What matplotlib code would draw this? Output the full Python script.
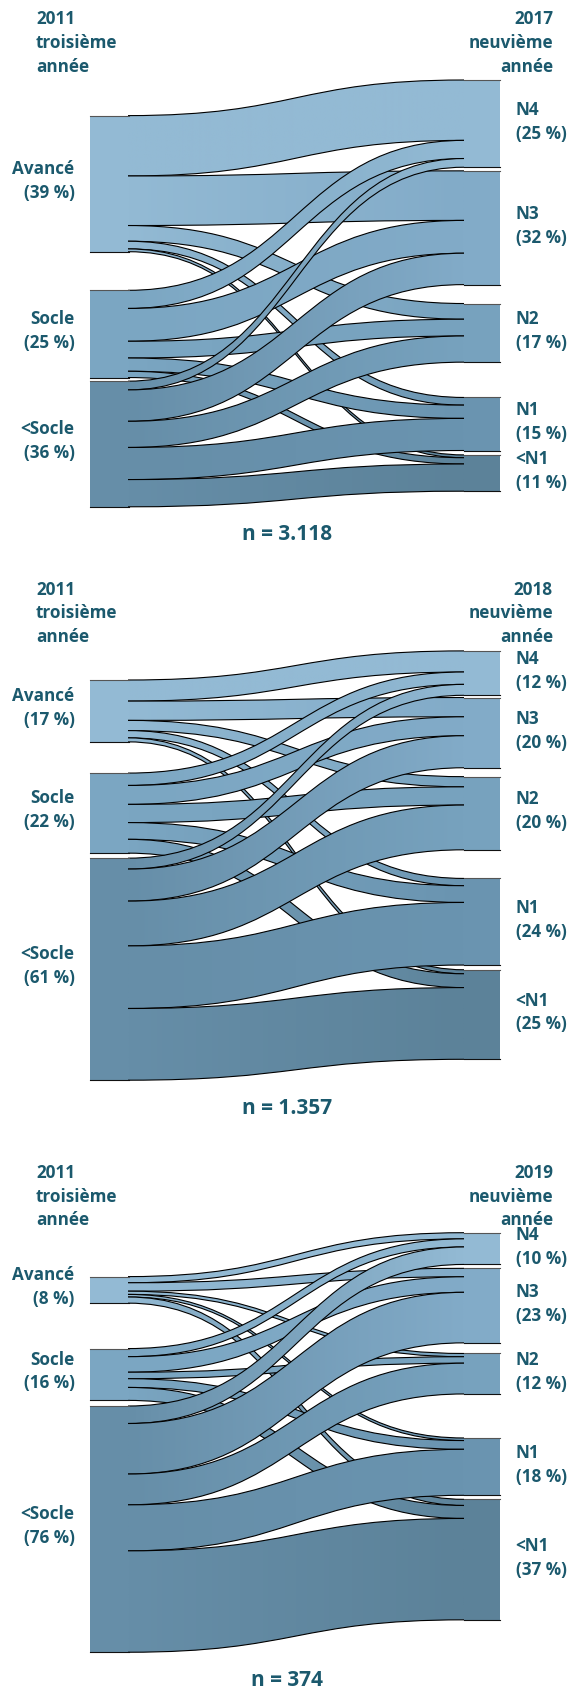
import numpy as np
import matplotlib.pyplot as plt
from matplotlib.path import Path
from matplotlib.patches import PathPatch, Rectangle
from matplotlib.colors import to_rgb

plt.rcParams['font.family'] = ['Open Sans', 'DejaVu Sans']

# --- data -------------------------------------------------------------
left_names = ["Avancé", "Socle", "<Socle"]
right_names = ["N4", "N3", "N2", "N1", "<N1"]
start_year = "2011"
end_years = ["2017", "2018", "2019"]
n_labels = ["3.118", "1.357", "374"]

left_pct = [[39, 25, 36], [17, 22, 61], [8, 16, 76]]
right_pct = [[25, 32, 17, 15, 11], [12, 20, 20, 24, 25], [10, 23, 12, 18, 37]]

# flows in % of pupils: rows = 2011 level, columns = later level
flows_2017 = [[17.3, 14.2, 4.5, 2.2, 0.8],
              [5.2, 9.4, 4.8, 3.8, 1.8],
              [2.5, 9.0, 7.5, 9.2, 7.8]]
flows_2018 = [[5.8, 5.3, 2.8, 2.0, 1.1],
              [3.4, 5.2, 5.0, 4.6, 3.8],
              [3.0, 8.8, 12.3, 17.2, 19.7]]
flows_2019 = [[1.9, 2.6, 1.0, 0.8, 1.9],
              [2.5, 4.8, 2.0, 2.7, 4.0],
              [5.4, 15.6, 9.5, 14.2, 31.3]]
all_flows = [flows_2017, flows_2018, flows_2019]

# --- layout (pixels) --------------------------------------------------
layouts = [
    dict(scale=3.49, ltop=115.6, lgaps=[38.6, 3.6], rtop=80.0,
         rgaps=[3.6, 18.9, 35.3, 4.4], head=43, n_y=535),
    dict(scale=3.64, ltop=680.0, lgaps=[31.2, 5.0], rtop=650.9,
         rgaps=[2.2, 8.9, 28.6, 4.7], head=613.5, n_y=1109),
    dict(scale=3.24, ltop=1276.6, lgaps=[45.4, 5.6], rtop=1232.7,
         rgaps=[3.9, 10.6, 44.0, 4.0], head=1196.5, n_y=1680),
]
left_colors = ["#93bad4", "#7ba6c2", "#668ea8"]
right_colors = ["#93bad4", "#82abc8", "#77a2be", "#6a94b0", "#5c8299"]
text_color = "#1b596d"
LX0, LX1 = 90, 128      # left node column
RX0, RX1 = 464, 500     # right node column
FS = 12.3
LS = 1.42


def curve(xa, ya, xb, yb):
    xm = (xa + xb) / 2
    return [(xa, ya), (xm, ya), (xm, yb), (xb, yb)]


def stack(top, totals, gaps, scale):
    ys, y = [], top
    for k, t in enumerate(totals):
        ys.append(y)
        y += t * scale + (gaps[k] if k < len(gaps) else 0)
    return ys


def draw_sankey(ax, flows, lay, idx):
    flows = np.array(flows)
    s = lay["scale"]
    src_tot = flows.sum(axis=1)
    tgt_tot = flows.sum(axis=0)
    ys = stack(lay["ltop"], src_tot, lay["lgaps"], s)
    yt = stack(lay["rtop"], tgt_tot, lay["rgaps"], s)

    src_off = list(ys)
    tgt_off = list(yt)
    z = 2
    for i in range(flows.shape[0]):
        for j in range(flows.shape[1]):
            h = flows[i, j] * s
            a0, b0 = src_off[i], tgt_off[j]
            a1, b1 = a0 + h, b0 + h
            src_off[i] += h
            tgt_off[j] += h
            top = curve(LX1, a0, RX0, b0)
            bot = curve(RX0, b1, LX1, a1)
            verts = top + bot + [top[0]]
            codes = ([Path.MOVETO] + [Path.CURVE4] * 3 + [Path.LINETO]
                     + [Path.CURVE4] * 3 + [Path.CLOSEPOLY])
            patch = PathPatch(Path(verts, codes), facecolor="none",
                              edgecolor="none", zorder=z)
            ax.add_patch(patch)
            c0 = np.array(to_rgb(left_colors[i]))
            c1 = np.array(to_rgb(right_colors[j]))
            t = np.linspace(0, 1, 256)[:, None]
            grad = (c0 * (1 - t) + c1 * t)[None, :, :]
            ymin = min(a0, b0) - 1
            ymax = max(a1, b1) + 1
            im = ax.imshow(grad, extent=(LX1, RX0, ymax, ymin), aspect="auto",
                           interpolation="bilinear", zorder=z)
            im.set_clip_path(patch)
            for edge in (top, bot):
                ax.add_patch(PathPatch(Path(edge, [Path.MOVETO] + [Path.CURVE4] * 3),
                                       fill=False, edgecolor="black", lw=0.8,
                                       zorder=z + 0.1))
            z += 0.2

    # nodes
    for i, y0 in enumerate(ys):
        h = src_tot[i] * s
        ax.add_patch(Rectangle((LX0, y0), LX1 - LX0, h, facecolor=left_colors[i],
                               edgecolor="none", zorder=20))
        ax.plot([LX0, LX1 + 0.5], [y0, y0], color="#555555", lw=0.8, zorder=21)
        ax.plot([LX0, LX1 + 0.5], [y0 + h, y0 + h], color="#111111", lw=0.8, zorder=21)
        ax.text(74.5, y0 + h / 2 - 3, f"{left_names[i]}\n({left_pct[idx][i]} %)",
                ha="right", va="center", fontsize=FS, fontweight="bold",
                color=text_color, linespacing=LS, zorder=30)
    for j, y0 in enumerate(yt):
        h = tgt_tot[j] * s
        ax.add_patch(Rectangle((RX0, y0), RX1 - RX0, h, facecolor=right_colors[j],
                               edgecolor="none", zorder=20))
        ax.plot([RX0 - 0.5, RX1], [y0, y0], color="#555555", lw=0.8, zorder=21)
        ax.plot([RX0 - 0.5, RX1], [y0 + h, y0 + h], color="#111111", lw=0.8, zorder=21)
        ax.text(515.5, y0 + h / 2 - 2, f"{right_names[j]}\n({right_pct[idx][j]} %)",
                ha="left", va="center", fontsize=FS, fontweight="bold",
                color=text_color, linespacing=LS, zorder=30)

    ax.text(36, lay["head"], f"{start_year}\ntroisième\nannée", ha="left",
            va="center", fontsize=FS, fontweight="bold", color=text_color,
            linespacing=LS)
    ax.text(553, lay["head"], f"{end_years[idx]}\nneuvième\nannée", ha="right",
            va="center", fontsize=FS, fontweight="bold", color=text_color,
            linespacing=LS)
    ax.text(287, lay["n_y"], f"n = {n_labels[idx]}", ha="center", va="center",
            fontsize=15, fontweight="bold", color=text_color)


fig = plt.figure(figsize=(5.7, 16.92), dpi=100)
ax = fig.add_axes([0, 0, 1, 1])
for k in range(3):
    draw_sankey(ax, all_flows[k], layouts[k], k)
ax.set_xlim(0, 570)
ax.set_ylim(1692, 0)
ax.set_aspect("auto")
ax.axis("off")
fig.savefig("out.png", dpi=100, facecolor="white")
